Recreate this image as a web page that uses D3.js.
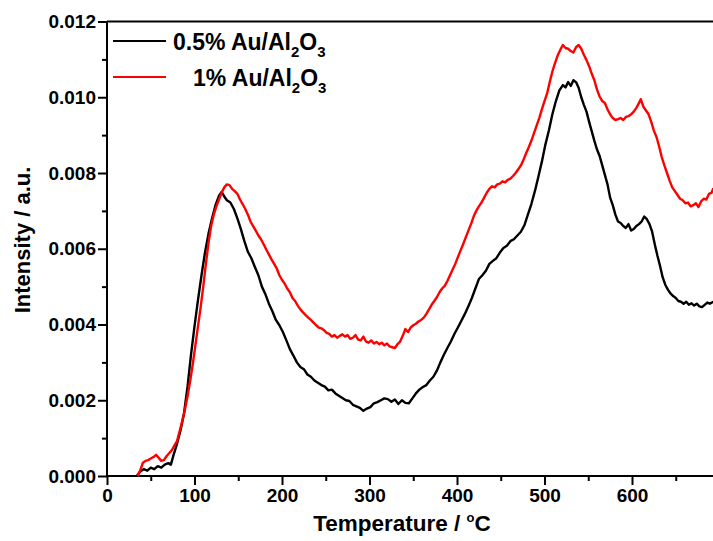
<!DOCTYPE html>
<html>
<head>
<meta charset="utf-8">
<script src="https://cdn.jsdelivr.net/npm/d3@7"></script>
<style>
  body { margin: 0; background: #fff; }
  svg { font-family: "Liberation Sans", Arial, sans-serif; font-weight: bold; }
</style>
</head>
<body>
<svg id="chart"></svg>
<script>
var width = 713, height = 541;

// [temperature °C, intensity a.u.]
var au05 = [[34,0],[38,0.00012],[42,0.00018],[46,0.00014],[50,0.00022],[54,0.00018],[58,0.00026],[62,0.00022],[66,0.0003],[70,0.00034],[73,0.0003],[76,0.00055],[80,0.00085],[84,0.0012],[88,0.00165],[92,0.00235],[96,0.0032],[100,0.00395],[104,0.00465],[108,0.0053],[112,0.0059],[116,0.0064],[120,0.0068],[124,0.00715],[128,0.0074],[131,0.0075],[134,0.00738],[137,0.00728],[141,0.00722],[145,0.00705],[149,0.0068],[153,0.00652],[157,0.0062],[161,0.00592],[165,0.00575],[169,0.00552],[173,0.0053],[177,0.005],[181,0.0048],[185,0.00455],[189,0.00435],[193,0.00412],[197,0.00398],[201,0.0038],[205,0.00358],[209,0.00335],[213,0.00318],[217,0.003],[221,0.00288],[225,0.00282],[229,0.00268],[233,0.00262],[237,0.00252],[241,0.00246],[245,0.0024],[249,0.00236],[253,0.00226],[257,0.00228],[261,0.00218],[265,0.00212],[269,0.00206],[273,0.002],[277,0.00198],[281,0.00188],[285,0.00184],[289,0.0018],[293,0.00172],[297,0.00178],[301,0.00182],[305,0.00192],[309,0.00195],[313,0.002],[317,0.00205],[321,0.00203],[325,0.00196],[329,0.00202],[333,0.0019],[337,0.002],[341,0.00193],[345,0.00192],[349,0.00205],[353,0.00218],[357,0.00228],[361,0.00235],[365,0.0024],[369,0.00252],[373,0.00262],[377,0.00278],[381,0.003],[385,0.0032],[389,0.00338],[393,0.00355],[397,0.00375],[401,0.00392],[405,0.0041],[409,0.00428],[413,0.00448],[417,0.0047],[421,0.00495],[425,0.0052],[429,0.0053],[433,0.00542],[437,0.0056],[441,0.00568],[445,0.00575],[449,0.0059],[453,0.00602],[457,0.00608],[461,0.0062],[465,0.00625],[469,0.00635],[473,0.00645],[477,0.00662],[481,0.0069],[485,0.00718],[489,0.00752],[493,0.0079],[497,0.0083],[501,0.00875],[505,0.00912],[509,0.00955],[513,0.0099],[517,0.01018],[521,0.01032],[524,0.01026],[527,0.0104],[530,0.0103],[533,0.01045],[536,0.0104],[539,0.01025],[542,0.01],[545,0.0098],[548,0.00962],[551,0.00935],[554,0.0091],[557,0.00885],[560,0.00862],[563,0.00845],[566,0.0082],[569,0.00795],[572,0.0077],[575,0.00735],[578,0.00715],[581,0.0069],[584,0.00672],[587,0.00668],[590,0.0066],[593,0.00655],[596,0.00665],[599,0.00648],[602,0.00652],[605,0.0066],[608,0.00665],[611,0.00672],[614,0.00685],[617,0.00678],[620,0.00665],[623,0.00645],[626,0.00612],[629,0.00582],[632,0.00555],[635,0.00525],[638,0.00505],[641,0.00492],[644,0.00482],[647,0.00475],[650,0.0047],[653,0.00462],[656,0.0046],[659,0.00455],[662,0.0046],[665,0.00452],[668,0.00456],[671,0.0045],[674,0.00455],[677,0.00448],[680,0.00446],[683,0.00452],[686,0.00458],[689,0.00455],[693,0.0046]];

var au1 = [[35,0],[38,0.00015],[41,0.00035],[44,0.0004],[47,0.00042],[50,0.00046],[53,0.0005],[56,0.00056],[59,0.00048],[62,0.0004],[65,0.00042],[68,0.00052],[71,0.0006],[74,0.00068],[77,0.0008],[80,0.00092],[83,0.00118],[86,0.00145],[89,0.00175],[92,0.0021],[95,0.0025],[98,0.00295],[101,0.00345],[104,0.00395],[107,0.00445],[110,0.005],[113,0.0056],[116,0.00615],[119,0.0066],[122,0.0069],[125,0.00712],[128,0.0073],[131,0.00748],[134,0.00762],[137,0.0077],[140,0.00768],[143,0.00758],[146,0.00752],[149,0.00745],[152,0.0073],[155,0.00718],[158,0.00705],[161,0.0069],[164,0.00672],[167,0.0066],[170,0.00648],[173,0.00635],[176,0.00625],[179,0.00612],[182,0.00598],[185,0.00585],[188,0.00572],[191,0.0056],[194,0.00548],[197,0.0053],[200,0.00518],[203,0.00508],[206,0.00495],[209,0.00485],[212,0.0047],[215,0.00462],[218,0.0045],[221,0.0044],[224,0.00432],[227,0.00425],[230,0.00418],[233,0.00412],[236,0.00405],[239,0.00398],[242,0.00392],[245,0.0039],[248,0.00385],[251,0.00378],[254,0.00375],[257,0.00368],[260,0.00372],[263,0.00365],[266,0.0037],[269,0.00374],[272,0.00368],[275,0.00372],[278,0.00362],[281,0.00365],[284,0.00372],[287,0.0036],[290,0.00358],[293,0.00368],[296,0.00355],[299,0.00352],[302,0.00358],[305,0.0035],[308,0.00354],[311,0.00348],[314,0.00352],[317,0.00345],[320,0.0035],[323,0.00342],[326,0.0034],[329,0.00338],[332,0.00348],[335,0.00355],[338,0.0037],[341,0.00388],[344,0.0038],[347,0.00392],[350,0.00398],[353,0.00402],[356,0.00408],[359,0.00412],[362,0.00418],[365,0.00428],[368,0.0044],[371,0.00452],[374,0.00462],[377,0.00472],[380,0.00485],[383,0.00495],[386,0.00502],[389,0.00515],[392,0.0053],[395,0.00545],[398,0.0056],[401,0.00578],[404,0.00595],[407,0.00612],[410,0.0063],[413,0.00648],[416,0.00665],[419,0.00685],[422,0.007],[425,0.00712],[428,0.00722],[431,0.00735],[434,0.00748],[437,0.00758],[440,0.00765],[443,0.00762],[446,0.0077],[449,0.00772],[452,0.00778],[455,0.00775],[458,0.00782],[461,0.00785],[464,0.00792],[467,0.008],[470,0.0081],[473,0.0082],[476,0.00835],[479,0.00852],[482,0.00868],[485,0.00885],[488,0.00905],[491,0.00925],[494,0.00945],[497,0.00968],[500,0.0099],[503,0.0101],[506,0.0104],[509,0.01068],[512,0.0109],[515,0.0111],[518,0.01125],[521,0.01138],[524,0.0113],[527,0.01128],[530,0.01122],[533,0.01118],[536,0.01132],[539,0.01138],[542,0.01128],[545,0.01112],[548,0.01098],[551,0.01082],[554,0.01062],[557,0.01045],[560,0.0102],[563,0.01002],[566,0.0099],[569,0.00985],[572,0.00968],[575,0.00955],[578,0.00945],[581,0.0094],[584,0.00942],[587,0.00945],[590,0.0094],[593,0.00948],[596,0.0095],[599,0.00955],[602,0.00962],[605,0.00972],[608,0.00985],[610,0.00995],[613,0.00975],[616,0.00965],[619,0.00955],[622,0.00935],[625,0.00912],[628,0.00895],[631,0.0087],[634,0.00842],[637,0.0082],[640,0.008],[643,0.0078],[646,0.00762],[649,0.00752],[652,0.00742],[655,0.00732],[658,0.00728],[661,0.0072],[664,0.00722],[667,0.00712],[670,0.00715],[673,0.0072],[676,0.0071],[679,0.00725],[682,0.00732],[685,0.0073],[688,0.00745],[691,0.00748],[693,0.0076]];

var xTicks = [0, 100, 200, 300, 400, 500, 600];
var xMinor = [50, 150, 250, 350, 450, 550, 650];
var yTicks = [0, 0.002, 0.004, 0.006, 0.008, 0.010, 0.012];
var yMinor = [0.001, 0.003, 0.005, 0.007, 0.009, 0.011];

var plotLeft = 107, plotTop = 21.5, plotBottom = 476;

var svg = d3.select('#chart')
    .attr("width", width)
    .attr("height", height);

var xscale = d3.scaleLinear()
    .domain([0, 700])
    .range([plotLeft, plotLeft + 612.5]);

var yscale = d3.scaleLinear()
    .domain([0, 0.012])
    .range([plotBottom, plotTop]);

// minor ticks
svg.append('g')
    .attr("transform", `translate(0,${plotBottom})`)
    .call(d3.axisBottom(xscale).tickValues(xMinor).tickSize(5).tickFormat(""))
    .call(g => g.select('.domain').remove())
    .selectAll('line').attr("stroke-width", 2);

svg.append('g')
    .attr("transform", `translate(${plotLeft},0)`)
    .call(d3.axisLeft(yscale).tickValues(yMinor).tickSize(5).tickFormat(""))
    .call(g => g.select('.domain').remove())
    .selectAll('line').attr("stroke-width", 2);

var xAxis = svg.append('g')
    .attr("transform", `translate(0,${plotBottom})`)
    .call(d3.axisBottom(xscale).tickValues(xTicks).tickSize(9).tickPadding(4).tickFormat(d => d));
xAxis.select('.domain').attr("stroke-width", 2).attr("d", `M${plotLeft},0H${width}`);
xAxis.selectAll('line').attr("stroke-width", 2);
xAxis.selectAll('text')
    .attr("font-size", 19).attr("font-weight", "bold").attr("font-family", "Liberation Sans, Arial, sans-serif")
    .attr("fill", "#000");

var yAxis = svg.append('g')
    .attr("transform", `translate(${plotLeft},0)`)
    .call(d3.axisLeft(yscale).tickValues(yTicks).tickSize(9).tickPadding(2).tickFormat(d3.format(".3f")));
yAxis.select('.domain').attr("stroke-width", 2).attr("d", `M0,${plotBottom}V${plotTop}`);
yAxis.selectAll('line').attr("stroke-width", 2);
yAxis.selectAll('text')
    .attr("font-size", 19).attr("font-weight", "bold").attr("font-family", "Liberation Sans, Arial, sans-serif")
    .attr("fill", "#000");

// top frame line
svg.append('line')
    .attr("x1", plotLeft).attr("x2", width)
    .attr("y1", plotTop).attr("y2", plotTop)
    .attr("stroke", "#000").attr("stroke-width", 2);

var line = d3.line()
    .x(d => xscale(d[0]))
    .y(d => yscale(d[1]));

svg.append('path')
    .datum(au05)
    .attr("d", line)
    .attr("fill", "none")
    .attr("stroke", "#000")
    .attr("stroke-width", 2.4)
    .attr("stroke-linejoin", "round");

svg.append('path')
    .datum(au1)
    .attr("d", line)
    .attr("fill", "none")
    .attr("stroke", "#ff0000")
    .attr("stroke-width", 2.4)
    .attr("stroke-linejoin", "round");

// axis titles
var xt = svg.append('text')
    .attr("x", 402).attr("y", 531)
    .attr("text-anchor", "middle")
    .attr("font-size", 22.5);
xt.append('tspan').text("Temperature / ");
xt.append('tspan').attr("font-size", 13).attr("dy", -9).text("o");
xt.append('tspan').attr("dy", 9).text("C");

svg.append('text')
    .attr("transform", "translate(30,240) rotate(-90)")
    .attr("text-anchor", "middle")
    .attr("font-size", 22)
    .text("Intensity / a.u.");

// legend
var legend = [
  {label: "0.5% Au/Al", color: "#000", y: 41, tx: 173},
  {label: "1% Au/Al", color: "#ff0000", y: 77, tx: 193}
];
legend.forEach(function(l){
    svg.append('line')
        .attr("x1", 113).attr("x2", 166)
        .attr("y1", l.y).attr("y2", l.y)
        .attr("stroke", l.color).attr("stroke-width", 2);
    var t = svg.append('text')
        .attr("x", l.tx).attr("y", l.y + 9)
        .attr("font-size", 23);
    t.append('tspan').text(l.label);
    t.append('tspan').attr("font-size", 15).attr("dy", 7).text("2");
    t.append('tspan').attr("dy", -7).text("O");
    t.append('tspan').attr("font-size", 15).attr("dy", 7).text("3");
});
</script>
</body>
</html>
